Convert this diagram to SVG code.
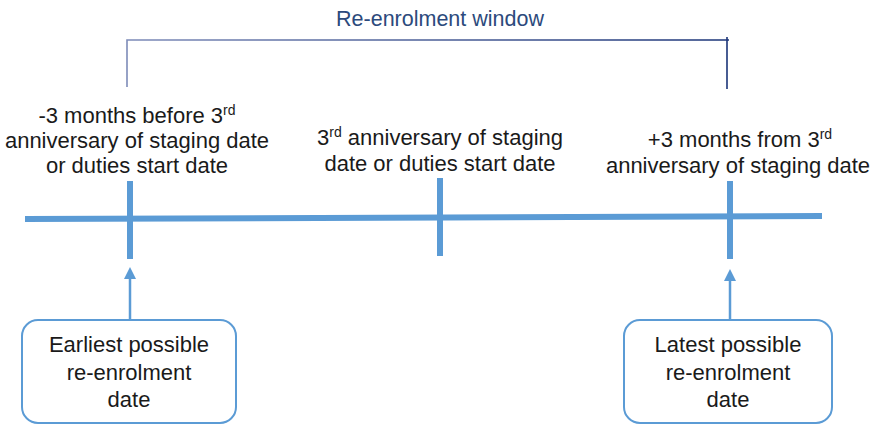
<svg xmlns="http://www.w3.org/2000/svg" width="875" height="424" viewBox="0 0 875 424">
<style>
.lbl{font-family:"Liberation Sans",Arial,sans-serif;font-size:22px;fill:#1a1a1a;text-anchor:middle}
.sup{font-size:14px}
.title{font-family:"Liberation Sans",Arial,sans-serif;font-size:21.5px;fill:#2C4A7C;text-anchor:middle}
.axis{stroke:#5B9BD5;stroke-width:6;fill:none}
.box{fill:#ffffff;stroke:#5B9BD5;stroke-width:2}
.conn{stroke:#5B9BD5;stroke-width:2.5;fill:none}
.head{fill:#5B9BD5}
</style>
<defs>
<linearGradient id="brk" gradientUnits="userSpaceOnUse" x1="127" y1="0" x2="729" y2="0">
<stop offset="0" stop-color="#7D8BB8"/>
<stop offset="1" stop-color="#1B3478"/>
</linearGradient>
</defs>
<rect width="875" height="424" fill="#ffffff"/>
<g id="window">
<text class="title" x="440" y="26">Re-enrolment window</text>
<path d="M127 87 V40 H729 M727 37 V89" stroke="url(#brk)" stroke-width="1.6" fill="none"/>
</g>
<g id="timeline">
<line class="axis" x1="25" y1="219" x2="822" y2="216"/>
<line class="axis" x1="130" y1="181" x2="130" y2="259"/>
<line class="axis" x1="440" y1="178" x2="440" y2="256"/>
<line class="axis" x1="730" y1="181" x2="730" y2="259"/>
</g>
<g id="label-left">
<text class="lbl" x="137" y="123">-3 months before 3<tspan class="sup" dy="-8">rd</tspan></text>
<text class="lbl" x="137" y="148">anniversary of staging date</text>
<text class="lbl" x="137" y="173">or duties start date</text>
</g>
<g id="label-mid">
<text class="lbl" x="440" y="145">3<tspan class="sup" dy="-8">rd</tspan><tspan dy="8"> anniversary of staging</tspan></text>
<text class="lbl" x="440" y="171">date or duties start date</text>
</g>
<g id="label-right">
<text class="lbl" x="740" y="147">+3 months from 3<tspan class="sup" dy="-8">rd</tspan></text>
<text class="lbl" x="738" y="173">anniversary of staging date</text>
</g>
<g id="connectors">
<line class="conn" x1="130" y1="320" x2="130" y2="277"/>
<polygon class="head" points="130,267 124,279 136,279"/>
<line class="conn" x1="730" y1="320" x2="730" y2="279"/>
<polygon class="head" points="730,269 724,281 736,281"/>
</g>
<g id="box-earliest">
<rect class="box" x="22" y="320" width="214" height="103" rx="16"/>
<text class="lbl" x="129" y="352">Earliest possible</text>
<text class="lbl" x="129" y="380">re-enrolment</text>
<text class="lbl" x="129" y="407">date</text>
</g>
<g id="box-latest">
<rect class="box" x="624" y="320" width="208" height="103" rx="16"/>
<text class="lbl" x="728" y="352">Latest possible</text>
<text class="lbl" x="728" y="380">re-enrolment</text>
<text class="lbl" x="728" y="407">date</text>
</g>
</svg>
